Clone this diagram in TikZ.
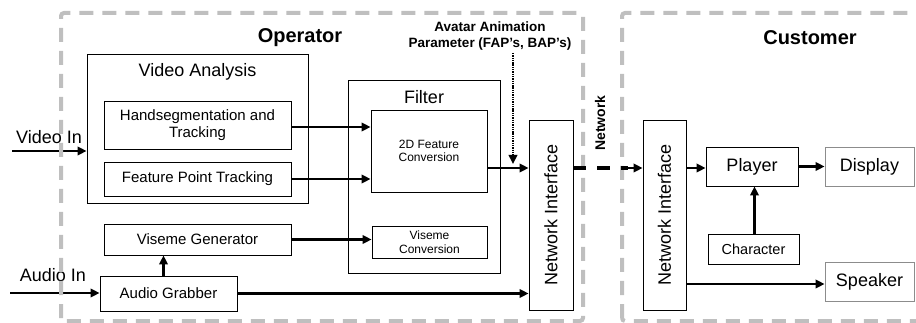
\documentclass[tikz,border=0pt]{standalone}
\usepackage{fontspec}
\setmainfont{Liberation Sans}
\usetikzlibrary{arrows.meta}
\newcommand{\fsz}[2]{\fontsize{#1}{#2}\selectfont}
\begin{document}
\begin{tikzpicture}[x=1pt,y=-1pt,
  box/.style={draw=black,line width=0.9pt,inner sep=0pt,align=center},
  graybox/.style={draw=black!45,line width=0.9pt,inner sep=0pt,align=center},
  big/.style={font=\fsz{18}{20}},
  mid/.style={font=\fsz{15}{17}},
  small/.style={font=\fsz{12}{13.5}},
  arr/.style={line width=2.2pt,-{Triangle[length=9pt,width=8.5pt]}},
  region/.style={draw=black!25,line width=4pt,dash pattern=on 14pt off 9pt},
  lbl/.style={inner sep=0pt}
]
\useasboundingbox (0,0) rectangle (916,323);

% titles
\node[lbl,font=\bfseries\fsz{20}{22}] (op) at (300,38) {Operator};
\node[lbl,font=\bfseries\fsz{20}{22}] (cu) at (810,38) {Customer};

% operator blocks
\node[box,minimum width=221pt,minimum height=149pt] (va) at (197.5,128.5) {};
\node[lbl,big] (vat) at (197.5,72) {Video Analysis};
\node[box,mid,minimum width=187pt,minimum height=48pt] (hs) at (197.5,125) {Handsegmentation and\\Tracking};
\node[box,mid,minimum width=187pt,minimum height=34pt] (fpt) at (197.5,179) {Feature Point Tracking};
\node[box,mid,minimum width=187pt,minimum height=31pt] (vg) at (197.5,239.5) {Viseme Generator};
\node[box,mid,minimum width=137pt,minimum height=35pt] (ag) at (168.5,293.5) {Audio Grabber};

\node[box,minimum width=152pt,minimum height=193pt] (filter) at (424,176.5) {};
\node[lbl,big] (ft) at (424,97) {Filter};
\node[box,small,minimum width=116pt,minimum height=82pt] (fc) at (429,151) {2D Feature\\Conversion};
\node[box,small,minimum width=115pt,minimum height=32pt] (vc) at (429.5,242) {Viseme\\Conversion};

\node[box,minimum width=44pt,minimum height=190pt] (ni1) at (551,215) {};
\node[lbl,big,rotate=90] (ni1t) at (551,215) {Network Interface};

% customer blocks
\node[box,minimum width=43pt,minimum height=190pt] (ni2) at (664.5,215) {};
\node[lbl,big,rotate=90] (ni2t) at (664.5,215) {Network Interface};
\node[box,big,minimum width=92pt,minimum height=39pt] (player) at (752,166.5) {Player};
\node[graybox,big,minimum width=89pt,minimum height=39pt] (display) at (869.5,166.5) {Display};
\node[box,font=\fsz{14.5}{16},minimum width=91pt,minimum height=30pt] (char) at (753.5,249) {Character};
\node[graybox,big,minimum width=89pt,minimum height=39pt] (speaker) at (869.5,281.5) {Speaker};

% outside labels
\node[lbl,big] (vin) at (49,137) {Video In};
\node[lbl,big] (ain) at (53,275) {Audio In};
\node[lbl,font=\bfseries\fsz{13.5}{16},align=center] (avatar) at (490,36) {Avatar Animation\\Parameter (FAP’s, BAP’s)};
\node[lbl,font=\bfseries\fsz{14}{16},rotate=90] (net) at (600,123) {Network};

% coordinates
\coordinate (vinS) at (12,151);
\coordinate (ainS) at (10,293);
\coordinate (sig) at (0,168);
\coordinate (spk) at (0,284);
\coordinate (dottop) at (513,53);
\coordinate (dotend) at (513,164);

% connectors
\draw[arr] (vinS) -- (vinS -| va.west);
\draw[arr] (ainS) -- (ainS -| ag.west);
\draw[arr] ([yshift=-2pt]hs.east) -- ([yshift=-2pt]hs.east -| fc.west);
\draw[arr] (fpt.east) -- (fpt.east -| fc.west);
\draw[arr] (vg.east) -- (vg.east -| vc.west);
\draw[arr] ([xshift=-5pt]ag.north) -- ([xshift=-5pt]ag.north |- vg.south);
\draw[arr] (ag.east) -- (ag.east -| ni1.west);
\draw[arr] (fc.east |- sig) -- (ni1.west |- sig);
\draw[line width=2pt,dash pattern=on 1.4pt off 0.9pt,-{Triangle[length=9pt,width=8.5pt]}] (dottop) -- (dotend);
\draw[arr] (ni2.east |- sig) -- (player.west |- sig);
\draw[arr] (player.east) -- (display.west);
\draw[arr] ([xshift=1pt]char.north) -- ([xshift=1pt]char.north |- player.south);
\draw[arr] (ni2.east |- spk) -- (speaker.west |- spk);

% region frames
\begin{scope}
\clip (0,0) rectangle (916,323);
\draw[region,rounded corners=3pt] (61,321) -- (61,13) -- (583,13) -- (583,321) -- cycle;
\draw[region,rounded corners=3pt] (622,321) -- (622,13) -- (940,13) -- (940,321) -- cycle;
\end{scope}

% network link
\draw[line width=4.5pt,dash pattern=on 13pt off 11pt] (ni1.east |- sig) -- ([xshift=-15pt]ni2.west |- sig);
\draw[arr] ([xshift=-18pt]ni2.west |- sig) -- (ni2.west |- sig);
\end{tikzpicture}
\end{document}
